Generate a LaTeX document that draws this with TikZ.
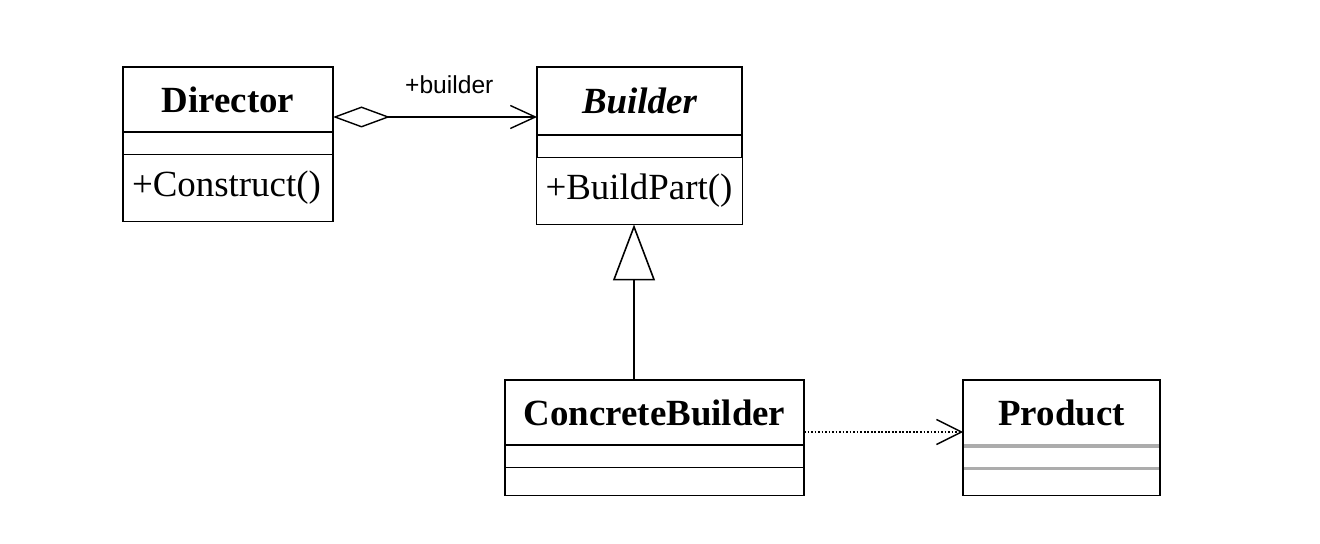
\documentclass[tikz,border=0pt]{standalone}
\usepackage{fontspec}
\setmainfont{Liberation Serif}
\newfontfamily\lblfont{Liberation Sans}
\usetikzlibrary{arrows.meta,positioning}

\begin{document}
\begin{tikzpicture}[
  cls/.style={
    draw, line width=1.1pt, outer sep=0pt, inner sep=0pt,
    font=\fontsize{21}{25}\selectfont
  },
  clshead/.style={cls, font=\fontsize{21}{25}\selectfont\bfseries},
  clsattr/.style={cls, minimum height=0.45cm},
  clsop/.style={cls, align=left, inner xsep=0.18cm, text width=#1},
  agg/.style={{Diamond[open,length=1.14cm,width=0.42cm]}-{Straight Barb[length=0.5cm,width=0.46cm]}, line width=0.8pt},
  gen/.style={-{Triangle[open,length=1.12cm,width=0.84cm]}, line width=0.9pt},
  dep/.style={-{Straight Barb[length=0.5cm,width=0.5cm]}, line width=0.8pt, dash pattern=on 1pt off 1pt},
  lbl/.style={font=\lblfont\fontsize{14}{16}\selectfont}
]
\useasboundingbox (0,0) rectangle (26.4,10.88);

% Director
\node[clshead, minimum width=4.2cm, minimum height=1.3cm] (dirhead) at (4.56,8.89) {Director};
\node[clsattr, minimum width=4.2cm, below=0pt of dirhead] (dirattr) {};
\node[clsop=3.84cm, minimum height=1.34cm, below=0pt of dirattr] (dirop) {+Construct()};

% Builder
\node[clshead, minimum width=4.1cm, minimum height=1.36cm] (bldhead) at (12.79,8.86) {\itshape Builder};
\node[clsattr, minimum width=4.1cm, below=0pt of bldhead] (bldattr) {};
\node[clsop=3.76cm, minimum height=1.34cm, below=0pt of bldattr] (bldop) {+BuildPart()};

% ConcreteBuilder
\node[clshead, minimum width=5.98cm, minimum height=1.3cm] (cbhead) at (13.09,2.63) {ConcreteBuilder};
\node[clsattr, minimum width=5.98cm, below=0pt of cbhead] (cbattr) {};
\node[clsattr, minimum width=5.98cm, minimum height=0.56cm, below=0pt of cbattr] (cbop) {};

% Product
\node[clshead, minimum width=3.94cm, minimum height=1.32cm] (prodhead) at (21.23,2.62) {Product};
\node[clsattr, minimum width=3.94cm, below=0pt of prodhead] (prodattr) {};
\node[clsattr, minimum width=3.94cm, minimum height=0.54cm, below=0pt of prodattr] (prodop) {};
\draw[gray!65, line width=1.8pt, shorten <=0.55pt, shorten >=0.55pt] (prodhead.south west) -- (prodhead.south east);
\draw[gray!65, line width=1.8pt, shorten <=0.55pt, shorten >=0.55pt] (prodattr.south west) -- (prodattr.south east);

% relations
\draw[agg] ([yshift=-0.35cm]dirhead.east) -- ([yshift=-0.35cm]dirhead.east -| bldhead.west)
  node[lbl, pos=0.57, above=0.34cm] (rolelbl) {+builder};
\draw[gen] ([xshift=-0.11cm]bldop.south |- cbhead.north) -- ([xshift=-0.11cm]bldop.south);
\draw[dep] ([yshift=-0.39cm]cbhead.east) -- ([yshift=-0.39cm]cbhead.east -| prodhead.west);
\end{tikzpicture}
\end{document}
